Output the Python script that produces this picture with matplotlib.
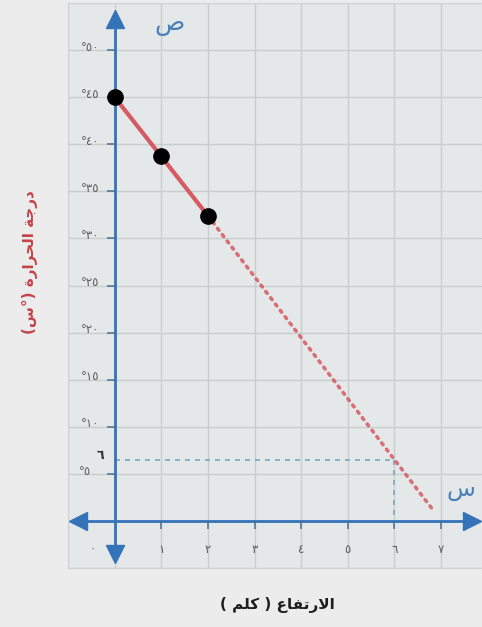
"""Altitude vs. temperature line graph with extrapolated dotted trend."""

import matplotlib

matplotlib.use("Agg")
import matplotlib.pyplot as plt  # noqa: E402

# measured points (altitude km, temperature C)
ALT = [0, 1, 2]
TEMP = [45, 38.7, 32.4]

# extrapolated (dotted) continuation
EXT_ALT = [2, 6, 6.82]
EXT_TEMP = [32.4, 6.5, 1.2]

# reading guide at altitude 6
GUIDE_ALT = 6
GUIDE_TEMP = 6.5

X_TICKS = [0, 1, 2, 3, 4, 5, 6, 7]
X_TICK_LABELS = ["\u0660", "\u0661", "\u0662", "\u0663",
                 "\u0664", "\u0665", "\u0666", "\u0667"]
Y_TICKS = [5, 10, 15, 20, 25, 30, 35, 40, 45, 50]
Y_TICK_LABELS = ["\u00b0\u0665", "\u00b0\u0661\u0660", "\u00b0\u0661\u0665",
                 "\u00b0\u0662\u0660", "\u00b0\u0662\u0665", "\u00b0\u0663\u0660",
                 "\u00b0\u0663\u0665", "\u00b0\u0664\u0660", "\u00b0\u0664\u0665",
                 "\u00b0\u0665\u0660"]
GUIDE_LABEL = "\u0666"

# pre-shaped Arabic (presentation forms, visual order)
XLABEL = "( \uFEE2\uFEE0\uFEDB ) \uFEC9\uFE8E\uFED4\uFE97\uFEAD\uFEFB\uFE8D"
YLABEL = ("(\uFEB1\u00b0) \uFE93\uFEAD\uFE8D\uFEAE\uFEA4\uFEDF\uFE8D "
          "\uFE94\uFE9F\uFEAD\uFEA9")
X_SYMBOL = "\u0633"
Y_SYMBOL = "\u0635"

BLUE = "#3573b9"
RED = "#d65a63"
TICK_GRAY = "#5e5e5e"

plt.rcParams["font.family"] = ["DejaVu Sans"]

fig = plt.figure(figsize=(4.82, 6.27), dpi=100, facecolor="#ececec")
ax = fig.add_axes([68 / 482, 59 / 627, 414 / 482, 565 / 627])
ax.set_facecolor("#e5e8e8")
ax.set_xlim(-1, 7.876)
ax.set_ylim(-5, 55)

# background grid
ax.set_xticks(range(-1, 8))
ax.set_yticks(range(-5, 56, 5))
ax.grid(True, color="#c9cdcd", linewidth=1.0)
ax.tick_params(length=0, labelbottom=False, labelleft=False)
for s in ax.spines.values():
    s.set_color("#d0d4d4")
ax.set_axisbelow(True)

# axes with arrow heads
ax.plot([-0.8, 7.6], [0, 0], color=BLUE, lw=2.0, zorder=3)
ax.plot([0, 0], [-3.8, 53], color=BLUE, lw=2.0, zorder=3)
ax.plot(-0.79, 0, marker="<", ms=13, color=BLUE, zorder=3, clip_on=False)
ax.plot(7.66, 0, marker=">", ms=13, color=BLUE, zorder=3, clip_on=False)
ax.plot(0, 53.3, marker="^", ms=13, color=BLUE, zorder=3, clip_on=False)
ax.plot(0, -3.5, marker="v", ms=13, color=BLUE, zorder=3, clip_on=False)

# tick marks + labels
ax.hlines(Y_TICKS, -0.17, 0, color="#4a6f93", lw=1.1, zorder=3)
ax.vlines(X_TICKS[1:], -0.9, 0, color="#4a6f93", lw=1.1, zorder=3)
for y, lab in zip(Y_TICKS, Y_TICK_LABELS):
    x = -0.5 if y == 5 else -0.32
    ax.text(x, y + 0.3, lab, ha="right", va="center",
            fontsize=8.5, color=TICK_GRAY)
for x, lab in zip(X_TICKS, X_TICK_LABELS):
    xx = -0.47 if x == 0 else x
    ax.text(xx, -3.0, lab, ha="center", va="center",
            fontsize=8.5, color=TICK_GRAY)
ax.text(-0.3, 6.9, GUIDE_LABEL, ha="center", va="center",
        fontsize=9, fontweight="bold", color="#333333")

# guide lines
ax.plot([0, GUIDE_ALT], [GUIDE_TEMP, GUIDE_TEMP], color="#7aa8b8",
        lw=1.2, dashes=(3, 3), zorder=2)
ax.plot([GUIDE_ALT, GUIDE_ALT], [GUIDE_TEMP, 0], color="#7aa8b8",
        lw=1.2, dashes=(3, 3), zorder=2)

# data
ax.plot(EXT_ALT, EXT_TEMP, color=RED, lw=2.6, alpha=0.85,
        linestyle=(0, (0.6, 1.6)), dash_capstyle="round", zorder=4)
ax.plot(ALT, TEMP, color=RED, lw=3.0, zorder=5)
ax.plot(ALT, TEMP, "o", color="black", ms=11, zorder=6)

# axis symbols
ax.text(1.18, 52.8, Y_SYMBOL, ha="center", va="center",
        fontsize=18, color="#4a80b8")
ax.text(7.42, 3.4, X_SYMBOL, ha="center", va="center",
        fontsize=17, color="#4a80b8")

# axis titles
fig.text(0.062, 0.582, YLABEL, rotation=90, ha="center", va="center",
         fontsize=11, fontweight="bold", color="#c4434a")
fig.text(0.575, 0.035, XLABEL, ha="center", va="center",
         fontsize=11, fontweight="bold", color="#1e1e1e")

fig.savefig("out.png", dpi=100, facecolor=fig.get_facecolor())
